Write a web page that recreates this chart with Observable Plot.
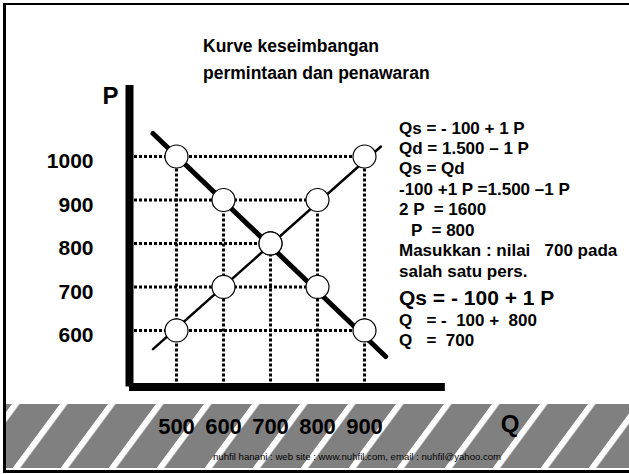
<!DOCTYPE html>
<html><head><meta charset="utf-8">
<script src="https://cdn.jsdelivr.net/npm/d3@7"></script>
<script src="https://cdn.jsdelivr.net/npm/@observablehq/plot@0.6"></script>
<style>
body{margin:0;background:#fff;}
#slide{position:relative;width:629px;height:474px;overflow:hidden;background:#fff;font-family:"Liberation Sans",Arial,sans-serif;}
#frame{position:absolute;left:3px;top:3px;width:640px;height:465px;border-left:3px solid #000;border-top:2px solid #000;border-bottom:3px solid #000;}
#band{position:absolute;left:6px;top:404px;width:623px;height:64px;}
#chart{position:absolute;left:0;top:0;}
#chart svg{overflow:visible;}
.t{position:absolute;white-space:pre;font-weight:bold;color:#000;line-height:1;font-family:"Liberation Sans",Arial,sans-serif;}
#footer{position:absolute;left:213px;top:451px;font-size:9.6px;color:#000;white-space:pre;font-family:"Liberation Sans",Arial,sans-serif;}
</style>
</head><body>
<div id="slide">
  <div id="frame"></div>
  <svg id="band" width="623" height="64">
    <defs><pattern id="stripes" patternUnits="userSpaceOnUse" width="48" height="64" patternTransform="skewX(-36.5)">
      <rect x="0" y="0" width="48" height="64" fill="#808080"/>
      <rect x="6" y="0" width="7.5" height="64" fill="#fff"/>
    </pattern></defs>
    <rect x="0" y="0" width="623" height="64" fill="url(#stripes)"/>
  </svg>
  <div id="chart"></div>
  <div class="t" style="left:203px;top:33px;font-size:17.5px;line-height:27px;">Kurve keseimbangan
permintaan dan penawaran</div>
  <div id="eq"></div>
  <div id="footer">nuhfil hanani : web site : www.nuhfil.com, email : nuhfil@yahoo.com</div>
</div>
<script>
// price levels and the quantities supplied / demanded at each price
const prices  = [1000, 900, 800, 700, 600];
const supplyQ = [900, 800, 700, 600, 500];
const demandQ = [500, 600, 700, 800, 900];
// visible extent of the two curves
const demandLineQ = [450, 945];
const demandLineP = [1053, 540];
const supplyLineQ = [450, 935];
const supplyLineP = [557, 1023];
// tick labels
const xTicks = [500, 600, 700, 800, 900];
const yTicks = [1000, 900, 800, 700, 600];
// axis extents
const axisQ = [400, 1072];
const axisP = [470, 1163];

const supplyPts = prices.map((p, i) => ({q: supplyQ[i], p}));
const demandPts = prices.map((p, i) => ({q: demandQ[i], p}));
const allPts = supplyPts.concat(demandPts);
const hGrid = prices.map((p, i) => ({p, q: Math.max(supplyQ[i], demandQ[i])}));
const vGrid = xTicks.map(q => ({q, p: d3.max(allPts.filter(d => d.q === q), d => d.p)}));
const demandLine = demandLineQ.map((q, i) => ({q, p: demandLineP[i]}));
const supplyLine = supplyLineQ.map((q, i) => ({q, p: supplyLineP[i]}));

const font = "Liberation Sans, Arial, sans-serif";
const chart = Plot.plot({
  width: 629, height: 474,
  marginLeft: 129, marginRight: 124, marginTop: 90.75, marginBottom: 87.5,
  x: {domain: [400, 1200]},
  y: {domain: [470, 1150]},
  style: {background: "transparent", fontFamily: font, color: "#000"},
  marks: [
    Plot.ruleY(hGrid, {y: "p", x1: axisQ[0], x2: "q", stroke: "#000", strokeWidth: 3, strokeDasharray: "3,2"}),
    Plot.ruleX(vGrid, {x: "q", y1: axisP[0], y2: "p", stroke: "#000", strokeWidth: 3, strokeDasharray: "3,2"}),
    Plot.line(demandLine, {x: "q", y: "p", stroke: "#000", strokeWidth: 5}),
    Plot.line(supplyLine, {x: "q", y: "p", stroke: "#000", strokeWidth: 2.5}),
    Plot.dot(allPts, {x: "q", y: "p", r: 11.5, fill: "#fff", stroke: "#000", strokeWidth: 1.2}),
    Plot.ruleX([axisQ[0]], {y1: axisP[0], y2: axisP[1], stroke: "#000", strokeWidth: 8}),
    Plot.ruleY([axisP[0]], {x1: axisQ[0], x2: axisQ[1], stroke: "#000", strokeWidth: 8}),
    Plot.axisY(yTicks, {anchor: "left", tickSize: 0, tickPadding: 36, fontSize: 21, fontWeight: "bold", label: null, dy: 5, tickFormat: d => String(d)}),
    Plot.axisX(xTicks, {anchor: "bottom", tickSize: 0, tickPadding: 31, fontSize: 22, fontWeight: "bold", label: null, tickFormat: d => String(d)}),
    Plot.text(["P"], {frameAnchor: "top-left", dx: -27, dy: -4, fontSize: 24, fontWeight: "bold", text: d => d}),
    Plot.text(["Q"], {frameAnchor: "bottom-right", dx: 14, dy: 45, fontSize: 24, fontWeight: "bold", text: d => d})
  ]
});
document.getElementById("chart").appendChild(chart);

const eqLines = [
  ["Qs = - 100 + 1 P", 17, 128, 0],
  ["Qd = 1.500 \u2013 1 P", 17, 148, 0],
  ["Qs = Qd", 17, 168.5, 0],
  ["-100 +1 P =1.500 \u20131 P", 17, 189, 0],
  ["2 P  = 1600", 17, 209.5, 0],
  ["P  = 800", 17, 230, 12],
  ["Masukkan : nilai   700 pada", 17, 250.5, 0],
  ["salah satu pers.", 17, 271, 0],
  ["Qs = - 100 + 1 P", 21, 297, 0],
  ["Q   = -  100 +  800", 17, 320, 0],
  ["Q   =  700", 17, 340, 0]
];
const eq = document.getElementById("eq");
eqLines.forEach(([txt, size, cy, indent]) => {
  const d = document.createElement("div");
  d.className = "t";
  d.textContent = txt;
  d.style.fontSize = size + "px";
  d.style.left = (399 + indent) + "px";
  d.style.top = (cy - size * 0.5) + "px";
  eq.appendChild(d);
});
</script>
</body></html>
